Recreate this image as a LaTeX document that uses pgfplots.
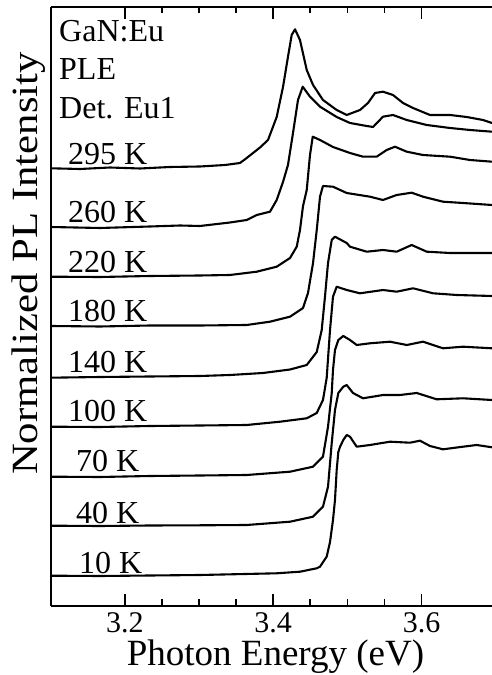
\documentclass[border=0pt]{standalone}
\usepackage{fontspec}
\setmainfont{Liberation Serif}
\usepackage{pgfplots}
\pgfplotsset{compat=1.18}
\begin{document}
\begin{tikzpicture}
\useasboundingbox (-50.7bp,-69.3bp) rectangle (441.3bp,605.7bp);
\begin{axis}[
  scale only axis, width=441.3bp, height=599bp,
  xmin=3.1, xmax=3.695, ymin=0, ymax=599,
  clip=false,
  axis x line=box, axis y line=left,
  axis line style={-, line width=1.8bp},
  xtick={3.2,3.4,3.6}, minor x tick num=3, ytick=\empty,
  xtick pos=both, xticklabel pos=lower,
  tick align=inside, major tick length=12bp, minor tick length=6.5bp,
  every tick/.style={black, line width=1.6bp},
  /pgf/number format/assume math mode=true,
  /pgf/number format/fixed, /pgf/number format/precision=1,
  xticklabel style={font=\fontsize{30bp}{30bp}\selectfont, anchor=base, yshift=-26.5bp},
  xlabel={Photon Energy (eV)},
  xlabel style={font=\fontsize{37bp}{37bp}\selectfont, at={(axis description cs:0.5094,0)}, anchor=base, yshift=-59.3bp},
  ylabel={\scalebox{1.156}[1]{Normalized PL Intensity}},
  ylabel style={font=\fontsize{37bp}{37bp}\selectfont, at={(axis description cs:-0.031,0.5713)}, anchor=base},
  pl/.style={black, line width=2.1bp, line join=round, mark=none, solid},
]
% 295 K
\addplot[pl] coordinates {(3.1000,437.4)(3.1395,436.7)(3.1800,438.2)(3.2204,437.2)(3.2609,438.7)(3.3013,439.2)(3.3350,440.7)(3.3552,442.7)(3.3643,447.7)(3.3728,452.7)(3.3822,458.2)(3.3930,465.7)(3.4047,488.7)(3.4132,518.7)(3.4199,548.7)(3.4249,570.7)(3.4294,576.4)(3.4361,565.7)(3.4452,535.7)(3.4537,520.7)(3.4671,505.7)(3.4856,495.7)(3.4991,490.7)(3.5170,495.7)(3.5278,502.7)(3.5373,512.7)(3.5480,514.0)(3.5615,510.7)(3.5750,502.7)(3.5885,497.7)(3.6114,490.7)(3.6384,490.7)(3.6609,488.7)(3.6829,485.7)(3.6950,482.7)};
% 260 K
\addplot[pl] coordinates {(3.1000,378.7)(3.1665,377.7)(3.2339,379.2)(3.2743,380.2)(3.3013,379.7)(3.3417,383.2)(3.3643,385.7)(3.3778,390.7)(3.3957,394.0)(3.4047,405.7)(3.4132,423.7)(3.4199,440.7)(3.4267,472.7)(3.4334,505.7)(3.4398,519.0)(3.4496,509.0)(3.4631,499.0)(3.4856,488.7)(3.5035,482.7)(3.5261,479.7)(3.5346,478.7)(3.5480,489.0)(3.5615,490.7)(3.5800,485.7)(3.6070,480.7)(3.6384,477.7)(3.6653,475.7)(3.6950,474.0)};
% 220 K
\addplot[pl] coordinates {(3.1000,329.0)(3.1665,328.7)(3.2339,329.7)(3.3013,330.2)(3.3417,330.7)(3.3778,334.0)(3.4047,339.0)(3.4227,347.7)(3.4317,359.0)(3.4361,375.7)(3.4402,399.7)(3.4452,415.7)(3.4496,450.7)(3.4533,469.0)(3.4631,465.7)(3.4806,458.7)(3.5035,452.7)(3.5211,449.0)(3.5395,449.0)(3.5530,455.7)(3.5642,459.0)(3.5800,454.0)(3.6020,450.7)(3.6384,449.0)(3.6653,445.7)(3.6950,444.0)};
% 180 K
\addplot[pl] coordinates {(3.1000,279.7)(3.1665,279.2)(3.2339,280.2)(3.3013,280.2)(3.3643,280.7)(3.3957,284.0)(3.4227,289.0)(3.4402,297.7)(3.4469,312.7)(3.4537,342.7)(3.4587,375.7)(3.4631,409.0)(3.4671,419.7)(3.4806,419.0)(3.4991,412.7)(3.5305,409.0)(3.5480,405.7)(3.5665,410.7)(3.5867,413.0)(3.6020,409.0)(3.6289,404.0)(3.6559,402.7)(3.6950,400.7)};
% 140 K
\addplot[pl] coordinates {(3.1000,228.0)(3.1665,228.7)(3.2339,229.2)(3.3013,229.7)(3.3417,230.7)(3.3862,232.7)(3.4227,236.2)(3.4452,240.7)(3.4587,253.7)(3.4654,275.7)(3.4698,309.0)(3.4739,342.7)(3.4789,365.7)(3.4833,369.0)(3.4991,362.7)(3.5035,359.0)(3.5261,354.0)(3.5480,355.7)(3.5665,354.0)(3.5867,360.7)(3.6070,354.0)(3.6384,352.7)(3.6653,352.7)(3.6950,352.7)};
% 100 K
\addplot[pl] coordinates {(3.1000,179.0)(3.1665,178.7)(3.2339,179.7)(3.3013,180.2)(3.3643,180.7)(3.4092,184.0)(3.4452,187.4)(3.4587,192.7)(3.4671,205.7)(3.4721,227.7)(3.4766,275.7)(3.4806,309.0)(3.4856,319.0)(3.4991,315.7)(3.5170,312.4)(3.5480,315.7)(3.5665,314.0)(3.5885,317.4)(3.6155,312.4)(3.6474,310.7)(3.6950,309.7)};
% 70 K
\addplot[pl] coordinates {(3.1000,129.0)(3.1665,128.7)(3.2339,129.7)(3.3013,130.2)(3.3643,130.7)(3.4227,134.0)(3.4537,139.0)(3.4671,149.0)(3.4739,179.0)(3.4789,212.7)(3.4806,235.7)(3.4833,255.7)(3.4878,265.7)(3.4945,269.7)(3.5035,265.7)(3.5126,260.7)(3.5305,262.4)(3.5575,264.0)(3.5800,260.7)(3.6020,264.0)(3.6289,257.4)(3.6559,259.0)(3.6950,257.4)};
% 40 K
\addplot[pl] coordinates {(3.1000,80.0)(3.1665,79.7)(3.2339,80.2)(3.3013,80.4)(3.3643,80.7)(3.4227,84.0)(3.4537,89.0)(3.4671,99.0)(3.4739,119.0)(3.4789,162.7)(3.4833,195.7)(3.4878,212.7)(3.4945,219.0)(3.4991,220.7)(3.5076,212.7)(3.5211,207.4)(3.5480,210.7)(3.5710,210.7)(3.5935,212.7)(3.6204,206.4)(3.6559,207.4)(3.6950,205.7)};
% 10 K
\addplot[pl] coordinates {(3.1000,30.0)(3.1665,29.7)(3.2339,30.2)(3.3013,30.7)(3.4047,32.4)(3.4361,34.0)(3.4587,37.4)(3.4631,39.0)(3.4721,49.0)(3.4766,63.7)(3.4806,85.7)(3.4833,105.7)(3.4856,135.7)(3.4878,153.7)(3.4901,159.0)(3.4945,165.7)(3.4991,170.7)(3.5035,169.0)(3.5126,159.0)(3.5305,160.7)(3.5575,164.0)(3.5844,163.0)(3.5979,165.0)(3.6114,159.7)(3.6289,156.4)(3.6559,159.0)(3.6744,160.7)(3.6950,158.4)};
\begin{scope}[every node/.style={anchor=base west, inner sep=0pt, font=\fontsize{32bp}{32bp}\selectfont}]
\node at (axis cs:3.1112,564.0) {GaN:Eu};
\node at (axis cs:3.1112,525.7) {PLE};
\node at (axis cs:3.1112,486.7) {Det. Eu1};
\node at (axis cs:3.1233,440.7) {295 K};
\node at (axis cs:3.1233,383.0) {260 K};
\node at (axis cs:3.1233,332.7) {220 K};
\node at (axis cs:3.1233,284.0) {180 K};
\node at (axis cs:3.1233,232.7) {140 K};
\node at (axis cs:3.1233,184.0) {100 K};
\node at (axis cs:3.1341,134.0) {70 K};
\node at (axis cs:3.1341,82.7) {40 K};
\node at (axis cs:3.1382,32.4) {10 K};
\end{scope}
\end{axis}
\end{tikzpicture}
\end{document}
